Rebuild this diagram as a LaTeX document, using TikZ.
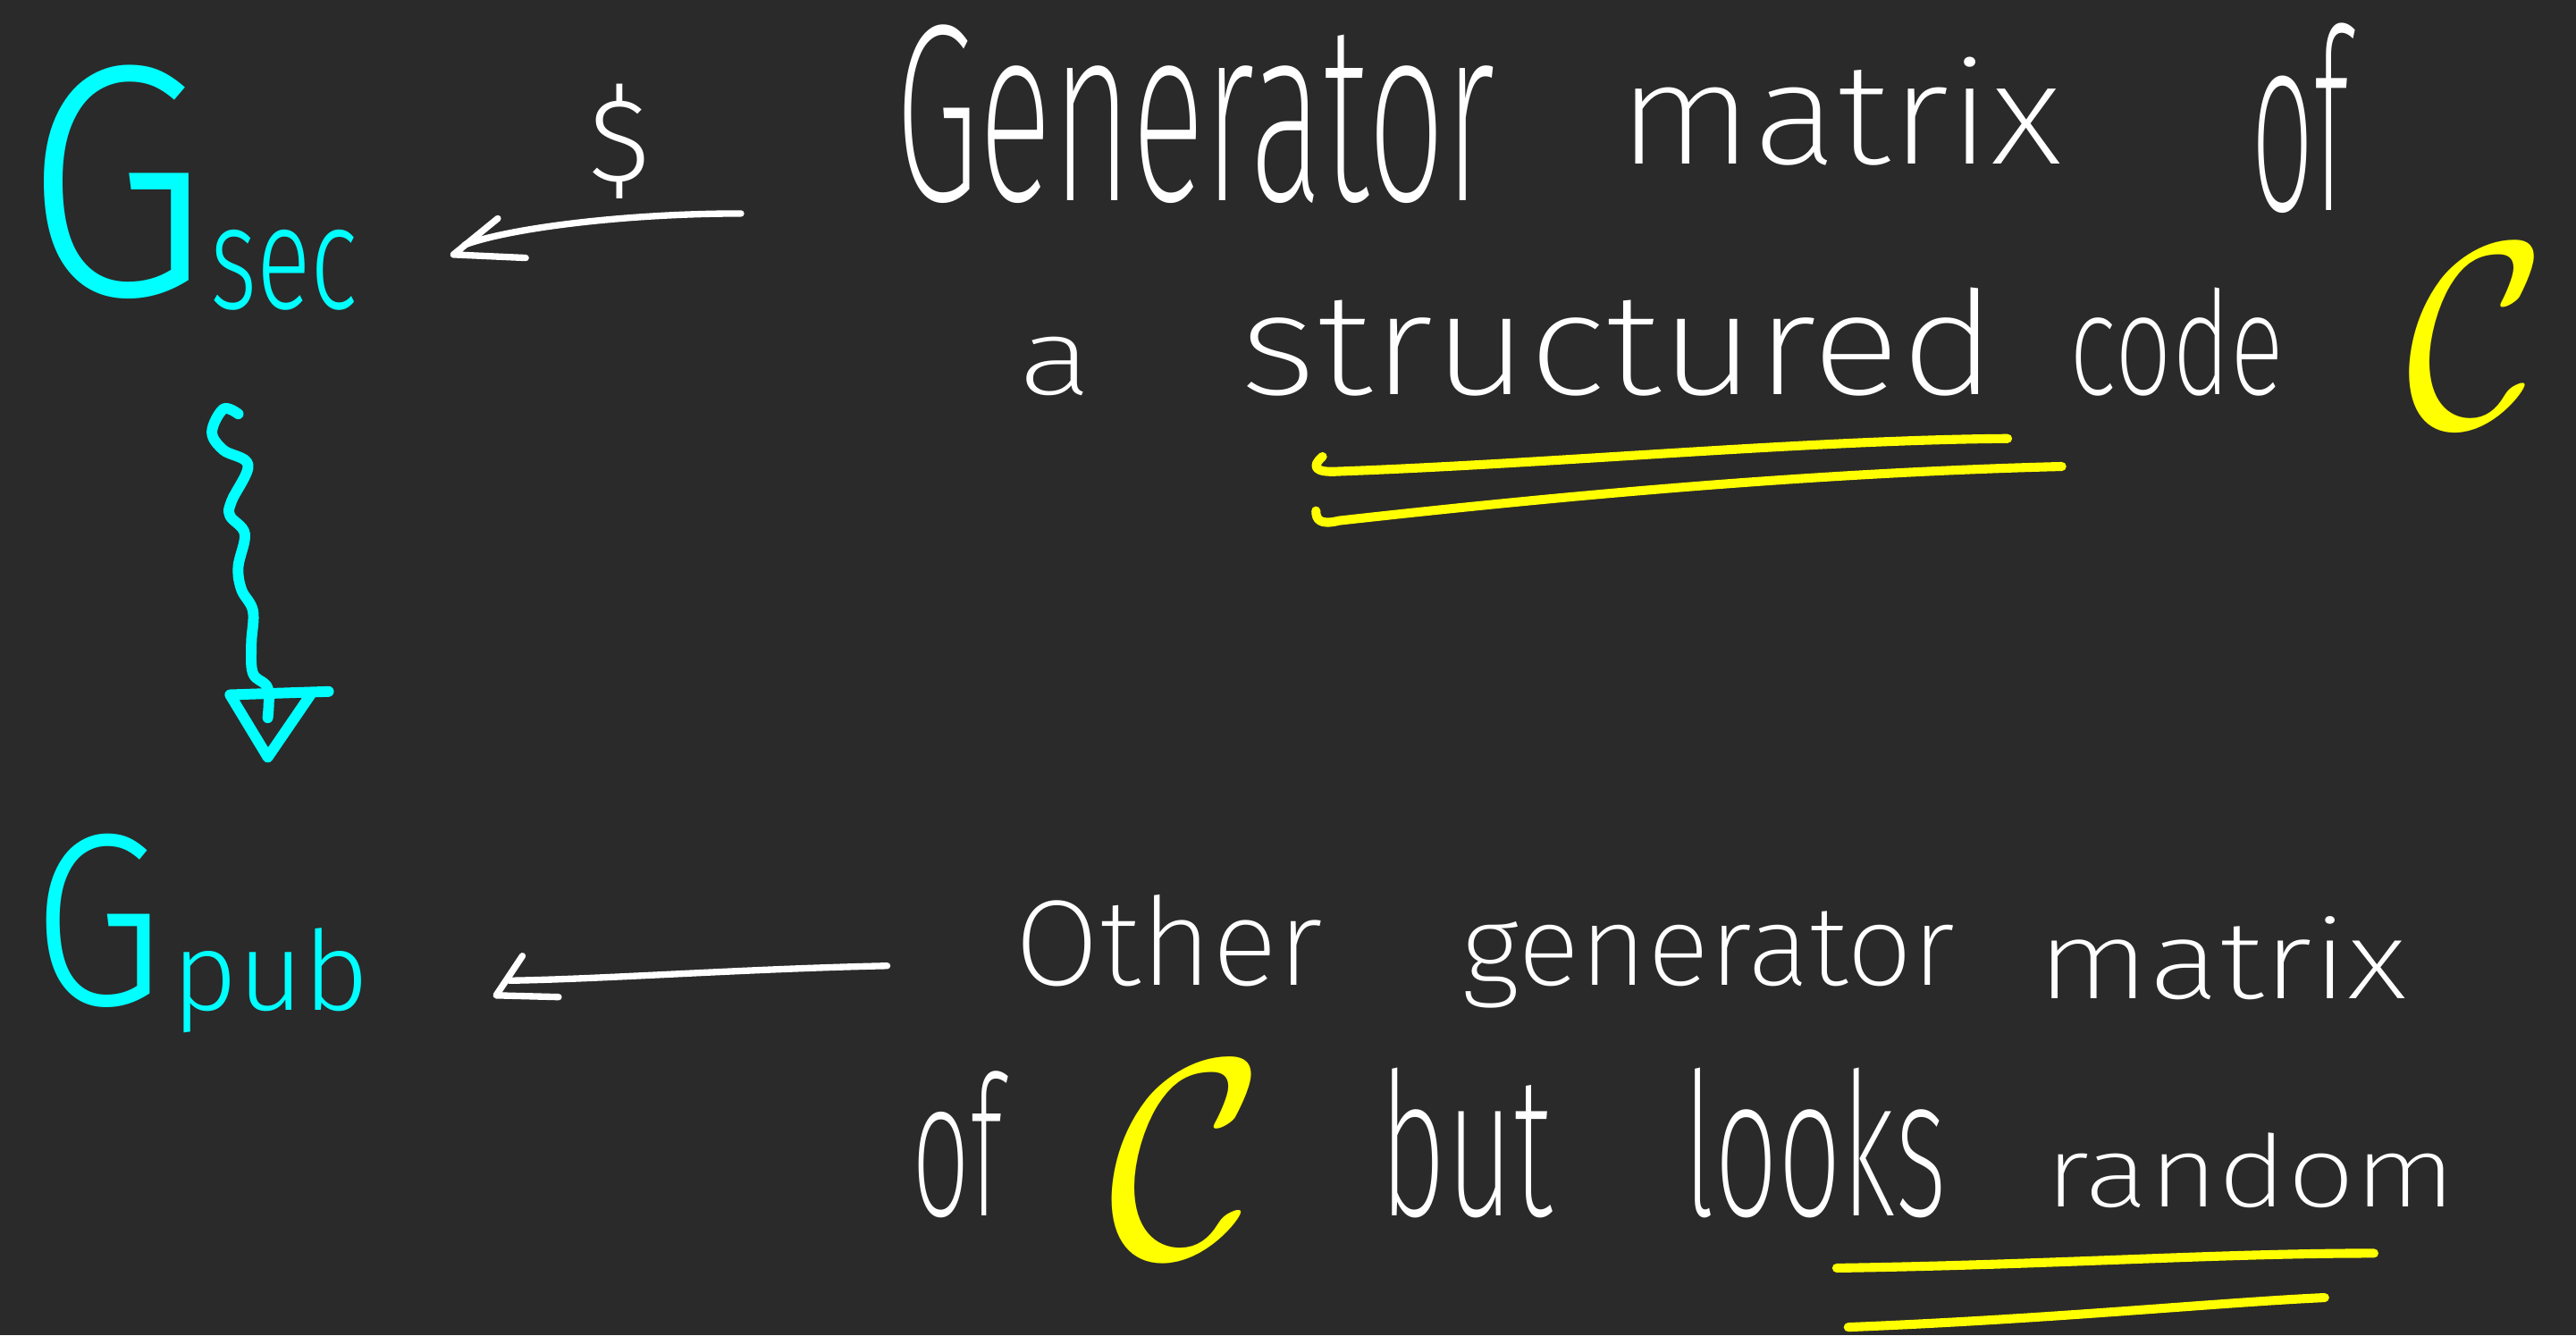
\documentclass[tikz,border=0pt]{standalone}
\usepackage{fontspec}
\usepackage{graphicx}
\newfontfamily\handthin{Fira Sans}[UprightFont={* ExtraLight}]
\newfontfamily\handmid{Fira Sans}[UprightFont={* Light}]
\usetikzlibrary{arrows.meta}
\definecolor{bg}{HTML}{2A2A2A}
\definecolor{cy}{HTML}{00FFFF}
\definecolor{yl}{HTML}{FFFF00}
\newcommand{\hw}[3]{\resizebox{#1pt}{#2pt}{#3}}
\begin{document}
\begin{tikzpicture}[x=1pt,y=-1pt,
  word/.style={anchor=base west, inner sep=0pt, outer sep=0pt, text=white, font=\handthin},
  cword/.style={word, text=cy, font=\handmid},
  yword/.style={word, text=yl},
  wline/.style={draw=white, line width=4pt, line cap=round, line join=round},
  cline/.style={draw=cy, line width=6.5pt, line cap=round, line join=round},
  yline/.style={draw=yl, line width=5.5pt, line cap=round, line join=round}]
\fill[bg] (0,0) rectangle (1568,813);
\useasboundingbox (0,0) rectangle (1568,813);
% cyan labels
\node[cword] (gsec) at (15,180) {\hw{112}{140}{G}};
\node[cword] (sec) at (128,188) {\hw{90}{48}{sec}};
\node[cword] (gpub) at (20,612) {\hw{80}{104}{G}};
\node[cword] (pub) at (105,615) {\hw{120}{50}{pub}};
% top text
\node[inner sep=0pt, text=white, font=\handmid\fontsize{72}{72}\selectfont] (dollar) at (377,86) {\$};
\node[word] (gen) at (545,122) {\hw{365}{107}{Generator}};
\node[word] (matrixa) at (985,100) {\hw{270}{65}{matrix}};
\node[word] (ofa) at (1370,128) {\hw{60}{114}{of}};
\node[word] (a) at (620,240) {\hw{45}{35}{a}};
\node[word] (structured) at (755,240) {\hw{460}{65}{structured}};
\node[word] (code) at (1260,240) {\hw{130}{65}{code}};
\node[yword] (calCa) at (1465,260) {\hw{85}{110}{$\mathcal{C}$}};
% bottom text
\node[word] (other) at (618,600) {\hw{187}{55}{Other}};
\node[word] (generator) at (890,600) {\hw{300}{45}{generator}};
\node[word] (matrixb) at (1240,608) {\hw{225}{50}{matrix}};
\node[word] (ofb) at (555,740) {\hw{55}{88}{of}};
\node[yword] (calCb) at (675,765) {\hw{95}{118}{$\mathcal{C}$}};
\node[word] (but) at (840,740) {\hw{105}{90}{but}};
\node[word] (looks) at (1025,740) {\hw{160}{90}{looks}};
\node[word] (random) at (1245,735) {\hw{250}{45}{random}};
% top arrow
\coordinate (a1s) at (451,130);
\coordinate (a1j) at (283,149);
\coordinate (a1u) at (303,133);
\coordinate (a1t) at (276,155);
\coordinate (a1l) at (320,157);
\draw[wline] (a1s) .. controls (380,130) and (310,139) .. (a1j);
\draw[wline] (a1u) -- (a1t) -- (a1l);
% bottom arrow
\coordinate (a2s) at (540,588);
\coordinate (a2j) at (310,597);
\coordinate (a2u) at (318,582);
\coordinate (a2t) at (302,606);
\coordinate (a2l) at (340,607);
\draw[wline] (a2s) .. controls (450,590) and (370,596) .. (a2j);
\draw[wline] (a2u) -- (a2t) -- (a2l);
% wavy arrow
\coordinate (w1) at (145,252);
\coordinate (w2) at (163,437);
\draw[cline] plot[smooth, tension=0.6] coordinates {(w1) (136,249) (129,263) (136,274) (151,283) (141,305) (140,314) (149,325) (145,345) (147,359) (154,372) (153,392) (154,410) (163,419) (w2)};
\coordinate (tr1) at (200,421);
\coordinate (tr2) at (140,423);
\coordinate (tr3) at (163,461);
\coordinate (tr4) at (189,423);
\draw[cline] (tr1) -- (tr2) -- (tr3) -- (tr4);
% yellow underlines
\draw[yline] (805,278) .. controls (798,284) and (800,288) .. (815,287) .. controls (950,282) and (1100,268) .. (1222,267);
\draw[yline] (801,311) .. controls (801,316) and (803,320) .. (815,317) .. controls (950,302) and (1100,288) .. (1255,284);
\draw[yline] (1118,772) .. controls (1250,770) and (1350,763) .. (1445,763);
\draw[yline] (1125,808) .. controls (1250,803) and (1350,793) .. (1415,790);
\end{tikzpicture}
\end{document}
